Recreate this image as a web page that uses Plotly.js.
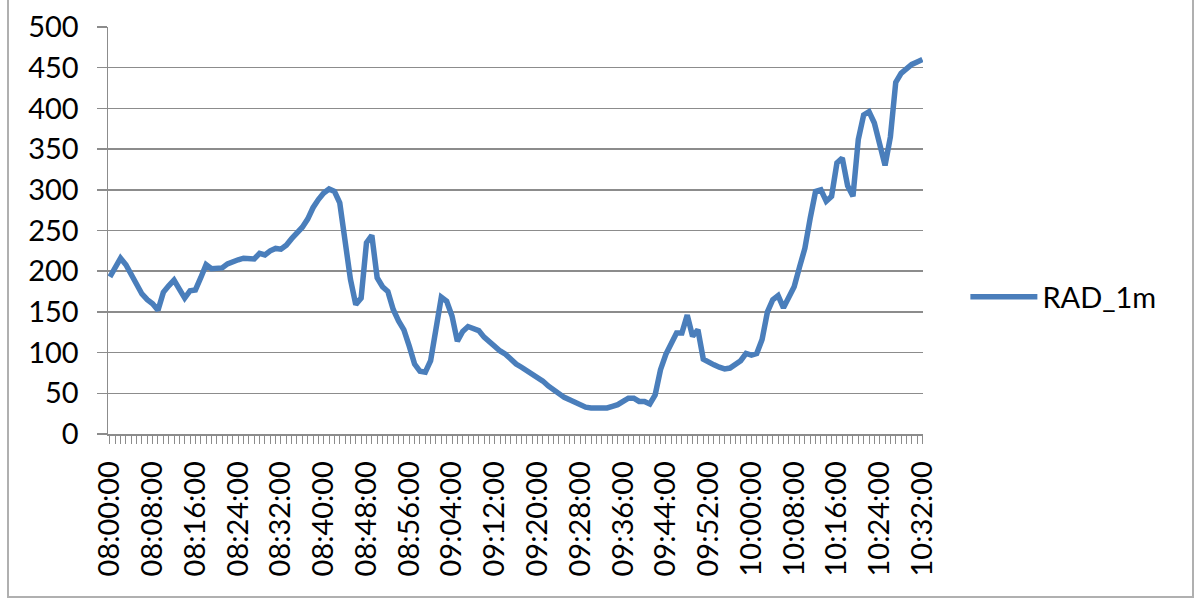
<!DOCTYPE html>
<html>
<head>
<meta charset="utf-8">
<script src="https://cdn.plot.ly/plotly-3.0.1.min.js"></script>
<style>html,body{margin:0;padding:0;background:#fff;}#chart{width:1200px;height:600px;}</style>
</head>
<body>
<div id="chart"></div>
<script>
// Time categories, one per minute from 08:00:00 to 10:32:00
const startMinute = 8 * 60;
const pointCount = 153;
const times = [];
for (let i = 0; i < pointCount; i++) {
  const m = startMinute + i;
  const hh = String(Math.floor(m / 60)).padStart(2, '0');
  const mm = String(m % 60).padStart(2, '0');
  times.push(hh + ':' + mm + ':00');
}

// RAD_1m values
const rad08 = [193, 203, 216, 208, 196, 184, 172, 165, 160, 152,
               174, 182, 189, 178, 167, 176, 177, 192, 208, 203,
               203, 204, 209, 212, 214, 216, 216, 215, 222, 220,
               225, 228, 227, 232, 240, 247, 254, 264, 278, 288,
               296, 301, 298, 284, 240, 190, 159, 167, 235, 244,
               192, 181, 175, 153, 139, 128, 108, 86, 77, 76];
const rad09 = [90, 125, 168, 163, 145, 114, 126, 132, 130, 127,
               119, 113, 107, 102, 98, 91, 86, 82, 78, 74,
               70, 65, 59, 54, 50, 45, 42, 39, 36, 33,
               32, 32, 32, 32, 34, 36, 40, 44, 44, 40,
               40, 37, 48, 79, 98, 113, 124, 124, 146, 120,
               128, 92, 88, 85, 82, 80, 81, 85, 90, 99];
const rad10 = [97, 99, 116, 150, 165, 170, 155, 168, 181, 205,
               228, 265, 298, 300, 286, 292, 333, 339, 305, 292,
               362, 392, 396, 382, 353, 330, 365, 432, 443, 449,
               454, 457, 460];
const rad1m = rad08.concat(rad09, rad10);

const labelEvery = 8;
const tickText = times.map((t, i) => (i % labelEvery === 0 ? t : ''));

const yTicks = [0, 50, 100, 150, 200, 250, 300, 350, 400, 450, 500];

const fontFamily = 'Lato, "Open Sans", sans-serif';
const gridColor = '#8c8c8c';
const labelSize = 29;

const trace = {
  type: 'scatter',
  mode: 'lines',
  name: 'RAD_1m',
  x: times,
  y: rad1m,
  line: { color: '#4A7EBB', width: 5.5, shape: 'linear' }
};

const layout = {
  width: 1200,
  height: 600,
  paper_bgcolor: '#ffffff',
  plot_bgcolor: '#ffffff',
  margin: { l: 108, r: 277, t: 27, b: 166 },
  font: { family: fontFamily, color: '#000000', size: labelSize },
  showlegend: true,
  legend: {
    x: 1.052, y: 0.337, xanchor: 'left', yanchor: 'middle',
    itemwidth: 67,
    font: { family: fontFamily, size: labelSize, color: '#000' },
    bgcolor: 'rgba(0,0,0,0)', borderwidth: 0
  },
  xaxis: {
    type: 'category',
    range: [-0.35, 152.1],
    tickmode: 'array',
    tickvals: times,
    ticktext: tickText,
    tickangle: -90,
    ticks: 'outside',
    ticklen: 8,
    tickwidth: 1,
    tickcolor: gridColor,
    showline: true,
    linecolor: gridColor,
    linewidth: 1.5,
    showgrid: false,
    zeroline: false,
    ticklabelstandoff: 6,
    tickfont: { family: fontFamily, size: labelSize, color: '#000' }
  },
  yaxis: {
    range: [0, 500],
    tickmode: 'array',
    tickvals: yTicks,
    ticks: 'outside',
    ticklen: 10,
    tickwidth: 1.5,
    tickcolor: gridColor,
    showline: true,
    linecolor: gridColor,
    linewidth: 1.5,
    showgrid: true,
    gridcolor: gridColor,
    gridwidth: 1.5,
    zeroline: false,
    ticklabelstandoff: 12,
    tickfont: { family: fontFamily, size: labelSize, color: '#000' }
  },
  shapes: [
    {
      type: 'rect', xref: 'paper', yref: 'paper',
      x0: -100 / 815, x1: 1085 / 815, y0: -163 / 407, y1: 1.2,
      line: { color: '#b0b0b0', width: 2 }, fillcolor: 'rgba(0,0,0,0)', layer: 'below'
    }
  ]
};

Plotly.newPlot('chart', [trace], layout, { displayModeBar: false, staticPlot: true });
</script>
</body>
</html>
